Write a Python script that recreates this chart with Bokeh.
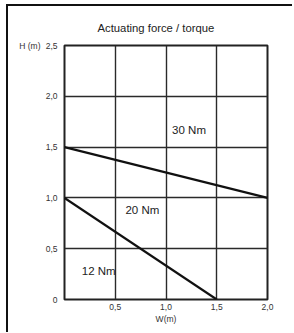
from bokeh.plotting import figure
from bokeh.models import FixedTicker, Range1d, LinearAxis, Title
from bokeh.embed import file_html
from bokeh.resources import INLINE

# data
x_ticks = [0.5, 1.0, 1.5, 2.0]
y_ticks = [0.0, 0.5, 1.0, 1.5, 2.0, 2.5]
x_tick_labels = ["0,5", "1,0", "1,5", "2,0"]
y_tick_labels = ["0", "0,5", "1,0", "1,5", "2,0", "2,5"]
line30_w = [0.0, 2.0]
line30_h = [1.5, 1.0]
line12_w = [0.0, 1.5]
line12_h = [1.0, 0.0]
labels = ["30 Nm", "20 Nm", "12 Nm"]
label_w = [1.06, 0.6, 0.17]
label_h = [1.67, 0.88, 0.28]

FONT = "Liberation Sans"

p = figure(output_backend="svg", toolbar_location=None,
           width=276, height=326,
           frame_width=203, frame_height=254,
           min_border_left=48, min_border_top=39, min_border_right=25, min_border_bottom=33,
           x_range=Range1d(0, 2.0), y_range=Range1d(0, 2.5), title=None)
p.styles = {"border-top": "2px solid #111", "border-left": "2px solid #111",
            "margin-top": "4px", "margin-left": "6px", "padding-left": "8px"}

p.outline_line_color = "#222"
p.outline_line_width = 2
p.background_fill_color = "white"
p.border_fill_color = "white"

h_axis = LinearAxis(ticker=FixedTicker(ticks=[2.5]),
                    major_label_overrides={2.5: "H (m)"})
p.add_layout(h_axis, "left")

for ax in (p.xaxis[0], p.yaxis[0], h_axis):
    ax.axis_line_color = None
    ax.major_tick_line_color = None
    ax.minor_tick_line_color = None
    ax.major_tick_out = 0
    ax.major_tick_in = 0
    ax.minor_tick_out = 0
    ax.minor_tick_in = 0
    ax.major_label_text_font = FONT
    ax.major_label_text_font_size = "8.5px"
    ax.major_label_text_color = "#333"
h_axis.major_label_standoff = 2

p.xaxis.ticker = FixedTicker(ticks=x_ticks)
p.yaxis[0].ticker = FixedTicker(ticks=y_ticks)
p.xaxis.major_label_overrides = {t: l for t, l in zip(x_ticks, x_tick_labels)}
p.yaxis[0].major_label_overrides = {t: l for t, l in zip(y_ticks, y_tick_labels)}
p.xaxis.major_label_standoff = 4
p.yaxis[0].major_label_standoff = 7
p.xaxis.axis_label = "W(m)"
p.xaxis.axis_label_text_font = FONT
p.xaxis.axis_label_text_font_size = "8.5px"
p.xaxis.axis_label_text_font_style = "normal"
p.xaxis.axis_label_text_color = "#333"
p.xaxis.axis_label_standoff = 1

p.xgrid.ticker = FixedTicker(ticks=x_ticks)
p.ygrid.ticker = FixedTicker(ticks=y_ticks)
for g in (p.xgrid[0], p.ygrid[0]):
    g.grid_line_color = "#2a2a2a"
    g.grid_line_width = 1.4

p.line(line30_w, line30_h, line_color="#111", line_width=2.2)
p.line(line12_w, line12_h, line_color="#111", line_width=2.2)

p.text(x=label_w, y=label_h, text=labels, text_font_size="11.5px",
       text_color="#222", text_baseline="middle", text_align="left",
       text_font={"value": FONT})

p.add_layout(Title(text="Actuating force / torque", align="left", offset=33,
                   text_font=FONT, text_font_size="11.3px", text_font_style="normal",
                   text_color="#222", standoff=23), "above")

open("out.html", "w").write(file_html(p, INLINE))
